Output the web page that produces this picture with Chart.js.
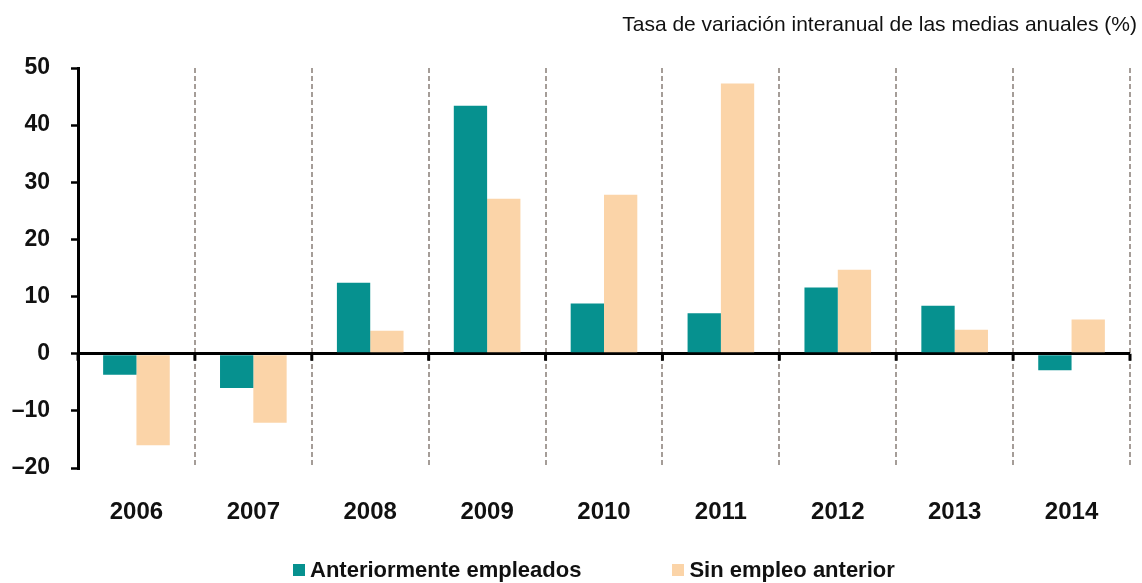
<!DOCTYPE html>
<html>
<head>
<meta charset="utf-8">
<script src="https://cdn.jsdelivr.net/npm/chart.js@4/dist/chart.umd.min.js"></script>
<style>
  body { margin: 0; background: #fff; }
  #wrap { position: relative; width: 1142px; height: 583px; }
  #title {
    position: absolute; right: 5px; top: 11px;
    font: 21px/25px "Liberation Sans", Arial, sans-serif; color: #111;
  }
  #legend {
    position: absolute; left: 293px; top: 557px;
    display: flex; gap: 91px;
    font: bold 22px/25px "Liberation Sans", Arial, sans-serif; color: #111;
  }
  #legend .item { display: flex; align-items: center; gap: 5px; }
  #legend .box { display: inline-block; width: 12px; height: 12px; }
</style>
</head>
<body>
<div id="wrap">
  <canvas id="chart"></canvas>
  <div id="title">Tasa de variación interanual de las medias anuales (%)</div>
  <div id="legend"></div>
</div>
<script>
const years         = ["2006", "2007", "2008", "2009", "2010", "2011", "2012", "2013", "2014"];
const anteriormente = [-3.7, -6.0, 12.4, 43.4, 8.8, 7.1, 11.6, 8.4, -2.9];
const sinEmpleo     = [-16.0, -12.1, 4.0, 27.1, 27.8, 47.3, 14.7, 4.2, 6.0];
const yMin = -20, yMax = 50, yStep = 10;

const TEAL  = "#06918f";
const PEACH = "#fbd4a8";
const FONT  = "'Liberation Sans', Arial, sans-serif";

// small black ticks under the zero line, at each category boundary
const zeroTicks = {
  id: "zeroTicks",
  afterDatasetsDraw(chart) {
    const { x, y } = chart.scales;
    const ctx = chart.ctx;
    const y0 = y.getPixelForValue(0);
    const n = x.ticks.length;
    const step = (x.right - x.left) / n;
    ctx.save();
    ctx.strokeStyle = "#000";
    ctx.lineWidth = 3;
    ctx.beginPath();
    for (let i = 0; i <= n; i++) {
      const px = x.left + i * step;
      ctx.moveTo(px, y0);
      ctx.lineTo(px, y0 + 7);
    }
    ctx.stroke();
    ctx.restore();
  },
};

const chart = new Chart(document.getElementById("chart"), {
  type: "bar",
  data: {
    labels: years,
    datasets: [
      { label: "Anteriormente empleados", data: anteriormente, backgroundColor: TEAL },
      { label: "Sin empleo anterior",     data: sinEmpleo,     backgroundColor: PEACH },
    ],
  },
  options: {
    responsive: true,
    maintainAspectRatio: false,
    animation: false,
    layout: { padding: { left: 0, right: 12, top: 68, bottom: 0 } },
    datasets: { bar: { categoryPercentage: 0.57, barPercentage: 1.0 } },
    plugins: {
      legend: { display: false },
      tooltip: { enabled: false },
    },
    scales: {
      x: {
        grid: {
          offset: true,
          color: c => (c.index === 0 ? "transparent" : "#a59d98"),
          lineWidth: 2,
          drawTicks: false,
        },
        border: { display: false, dash: [5, 3] },
        ticks: {
          color: "#111",
          font: { family: FONT, size: 24, weight: "bold" },
          padding: 30,
        },
        afterFit: s => { s.height = 115; },
      },
      y: {
        min: yMin,
        max: yMax,
        z: 1,
        grid: {
          color: c => (c.tick && c.tick.value === 0 ? "#000" : "transparent"),
          lineWidth: 3,
          tickColor: "#000",
          tickLength: 7,
          tickWidth: 2.5,
        },
        border: { display: true, color: "#000", width: 3 },
        ticks: {
          stepSize: yStep,
          color: "#111",
          font: { family: FONT, size: 23, weight: "bold" },
          padding: 21,
          callback: v => String(v).replace("-", "\u2013"),
        },
        afterFit: s => { s.width = 78; },
      },
    },
  },
  plugins: [zeroTicks],
});

// legend drawn as html, built from the datasets
document.getElementById("legend").innerHTML = chart.data.datasets
  .map(d => `<span class="item"><span class="box" style="background:${d.backgroundColor}"></span>${d.label}</span>`)
  .join("");
</script>
</body>
</html>
